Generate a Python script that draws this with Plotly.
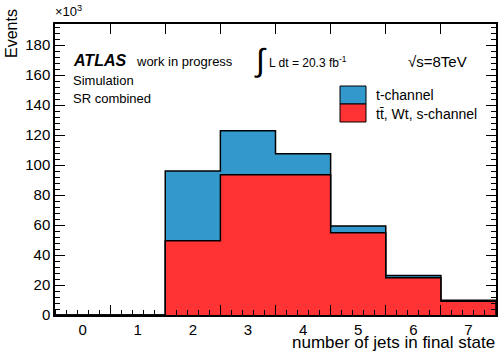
import plotly.graph_objects as go

# ---- data (events, in units of 10^3) ----
n_jets = [0, 1, 2, 3, 4, 5, 6, 7]
x_tick_labels = ["0", "1", "2", "3", "4", "5", "6", "7"]
background_k = [0, 0, 49.5, 93.5, 93.5, 54.9, 24.9, 9.1]     # tt, Wt, s-channel
tchannel_k = [0, 0, 46.5, 29.4, 14.0, 4.4, 1.5, 0.7]         # t-channel (stacked on top)
y_tick_vals = [0, 20, 40, 60, 80, 100, 120, 140, 160, 180]

BLUE = "#3399CC"
RED = "#FF3333"
FONT = "Liberation Sans, Arial, Helvetica, sans-serif"

edges = [n - 0.5 for n in n_jets] + [n_jets[-1] + 0.5]
total_k = [b + t for b, t in zip(background_k, tchannel_k)]


def step(vals):
    xs = edges + [edges[-1]]
    ys = list(vals) + [vals[-1], 0]
    return xs, ys


fig = go.Figure()
xs, ys = step(total_k)
fig.add_trace(go.Scatter(x=xs, y=ys, mode="lines", line=dict(shape="hv", color="black", width=1.5),
                         fill="tozeroy", fillcolor=BLUE, name="t-channel", showlegend=False))
xs, ys = step(background_k)
fig.add_trace(go.Scatter(x=xs, y=ys, mode="lines", line=dict(shape="hv", color="black", width=1.5),
                         fill="tozeroy", fillcolor=RED, name="tt, Wt, s-channel", showlegend=False))
# invisible trace to carry the bin-edge tick axis
fig.add_trace(go.Scatter(x=[edges[0], edges[-1]], y=[0, 0], xaxis="x2", mode="lines",
                         line=dict(width=0), hoverinfo="skip", showlegend=False))

# the y title is centred by plotly; transparent leading padding pushes "Events" to the top end
y_title = '<span style="color:rgba(0,0,0,0)">' + "x" * 34 + "</span>Events"

fig.update_layout(
    width=498, height=351,
    margin=dict(l=55, r=2, t=24, b=36),
    paper_bgcolor="white", plot_bgcolor="white",
    font=dict(family=FONT, color="black"),
    xaxis=dict(range=[edges[0], edges[-1]], tickvals=n_jets, ticktext=x_tick_labels,
               ticks="", showgrid=False, zeroline=False, showline=True, linecolor="black",
               linewidth=1.5, mirror=True, tickfont=dict(size=15),
               minor=dict(tick0=-0.5, dtick=0.2, ticks="inside", ticklen=5, tickcolor="black",
                          tickwidth=1, showgrid=False)),
    xaxis2=dict(range=[edges[0], edges[-1]], overlaying="x", anchor="y", side="bottom",
                tickvals=edges, ticks="inside", ticklen=10, tickwidth=1, tickcolor="black",
                showticklabels=False, showgrid=False, zeroline=False, showline=False,
                mirror="ticks"),
    yaxis=dict(range=[0, 194], tickvals=y_tick_vals, ticks="inside", ticklen=10, tickwidth=1,
               tickcolor="black", showgrid=False, zeroline=False, showline=True,
               linecolor="black", linewidth=1.5, mirror="ticks", tickfont=dict(size=15),
               title=dict(text=y_title, font=dict(size=16, family=FONT), standoff=4),
               automargin=False,
               minor=dict(dtick=4, ticks="inside", ticklen=5, tickcolor="black", tickwidth=1,
                          showgrid=False)),
)


def px(x):
    return (x - 55) / 441.0


def py(y):
    return (315 - y) / 291.0


def ann(text, x, y, size, xanchor="left", yanchor="middle", **kw):
    fig.add_annotation(text=text, x=px(x), y=py(y), xref="paper", yref="paper",
                       xanchor=xanchor, yanchor=yanchor, showarrow=False,
                       font=dict(size=size, family=FONT, color="black"), **kw)


ann("<b><i>ATLAS</i></b>", 71, 60, 16)
ann("work in progress", 134, 61, 13)
ann("Simulation", 71, 80, 13)
ann("SR combined", 71, 99, 13)
ann("∫", 260, 60, 32, xanchor="center")
ann("L dt = 20.3 fb<sup>-1</sup>", 267, 62, 12)
ann("√s=8TeV", 406, 62, 15)
ann("×10<sup>3</sup>", 53, 11, 13)
ann("t-channel", 374, 95, 14)
ann("tt\u0304, Wt, s-channel", 374, 114, 14)
ann("number of jets in final state", 497, 342, 17, xanchor="right")

# legend boxes
fig.add_shape(type="rect", xref="paper", yref="paper", x0=px(340), x1=px(366), y0=py(104),
              y1=py(86), fillcolor=BLUE, line=dict(color="black", width=1))
fig.add_shape(type="rect", xref="paper", yref="paper", x0=px(340), x1=px(366), y0=py(122),
              y1=py(104), fillcolor=RED, line=dict(color="black", width=1))

fig.write_html("out.html")
